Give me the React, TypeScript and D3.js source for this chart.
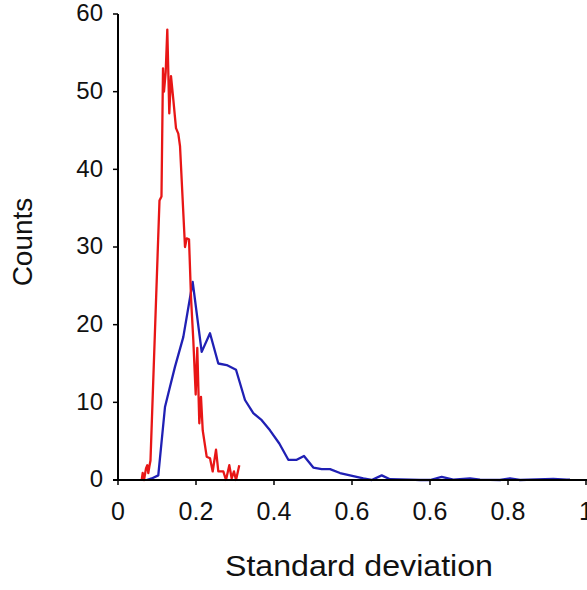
import React from "react";
import * as d3 from "d3";

const redX = [0.0608, 0.0633, 0.0667, 0.0718, 0.0751, 0.0777, 0.0803, 0.0833, 0.1064, 0.1115, 0.1154, 0.1179, 0.1223, 0.1264, 0.1315, 0.1359, 0.1418, 0.1487, 0.1546, 0.159, 0.1718, 0.1762, 0.1821, 0.1872, 0.1931, 0.1992, 0.2033, 0.2085, 0.2128, 0.2172, 0.2274, 0.2359, 0.2428, 0.2513, 0.2572, 0.27, 0.2769, 0.2854, 0.2915, 0.2974, 0.3026, 0.311];
const redY = [0, 0.9, 0, 1.5, 1.9, 0.9, 1.7, 2.5, 36, 36.5, 53, 50, 52.5, 58, 47.2, 52, 49, 45.3, 44.6, 43, 30, 31.1, 31, 23.5, 18, 11, 17, 7.3, 10.7, 6.4, 3, 2.8, 1.1, 3.9, 1.1, 1.1, 0, 1.9, 0.2, 1.1, 0, 1.9];

const blueX = [0.0736, 0.0864, 0.1033, 0.1205, 0.1333, 0.1462, 0.1674, 0.1915, 0.2146, 0.2359, 0.2572, 0.2787, 0.3026, 0.3256, 0.3469, 0.3685, 0.3897, 0.4136, 0.4367, 0.4582, 0.4769, 0.5008, 0.5223, 0.5436, 0.5692, 0.6033, 0.629, 0.6505, 0.6762, 0.6974, 0.7487, 0.7744, 0.8, 0.83, 0.8597, 0.9026, 0.9282, 0.9795, 1.0051, 1.0308, 1.1162, 1.1505, 1.159];
const blueY = [0, 0.2, 0.6, 9.4, 12, 14.6, 18.4, 25.5, 16.5, 18.9, 15, 14.8, 14.2, 10.3, 8.6, 7.7, 6.4, 4.7, 2.6, 2.6, 3.1, 1.6, 1.4, 1.4, 0.9, 0.5, 0.2, 0, 0.6, 0.1, 0.05, 0, 0, 0.4, 0.05, 0.2, 0.05, 0, 0.2, 0, 0.15, 0.05, 0.05];

const xTickValues = [0, 0.2, 0.4, 0.6, 0.8, 1.0, 1.2];
const xTickLabels = ["0", "0.2", "0.4", "0.6", "0.6", "0.8", "1"];
const yTickValues = [0, 10, 20, 30, 40, 50, 60];

export default function App() {
  const x = d3.scaleLinear().domain([0, 1.2]).range([118, 586]);
  const y = d3.scaleLinear().domain([0, 60]).range([480, 14]);
  const line = d3
    .line<[number, number]>()
    .x((d) => x(d[0]))
    .y((d) => y(d[1]));
  const red = redX.map((v, i) => [v, redY[i]] as [number, number]);
  const blue = blueX.map((v, i) => [v, blueY[i]] as [number, number]);
  const font = "'Liberation Sans', Arial, Helvetica, sans-serif";
  return (
    <svg
      width={587}
      height={590}
      style={{ position: "absolute", left: 0, top: 0, background: "#fff" }}
      fontFamily={font}
    >
      <rect width={587} height={590} fill="#fff" />
      <path d={line(blue) || ""} fill="none" stroke="#2020b4" strokeWidth={2.3} strokeLinejoin="round" />
      <path d={line(red) || ""} fill="none" stroke="#e81616" strokeWidth={2.3} strokeLinejoin="round" />
      {/* y axis */}
      <line x1={118} x2={118} y1={y(60)} y2={y(0)} stroke="#000" strokeWidth={2} />
      {yTickValues.map((t) => (
        <g key={t}>
          <line x1={113} x2={118} y1={y(t)} y2={y(t)} stroke="#000" strokeWidth={1.5} />
          <text x={103} y={y(t)} dy="0.3em" textAnchor="end" fontSize={24} fill="#111">
            {t}
          </text>
        </g>
      ))}
      {/* x axis */}
      <line x1={113} x2={587} y1={480} y2={480} stroke="#000" strokeWidth={2} />
      {xTickValues.map((t, i) => (
        <g key={i}>
          <line x1={x(t)} x2={x(t)} y1={480} y2={485} stroke="#000" strokeWidth={1.5} />
          <text x={x(t)} y={520} textAnchor="middle" fontSize={25} fill="#111">
            {xTickLabels[i]}
          </text>
        </g>
      ))}
      <text
        x={359}
        y={576}
        textAnchor="middle"
        fontSize={29}
        fill="#111"
        textLength={268}
        lengthAdjust="spacingAndGlyphs"
      >
        Standard deviation
      </text>
      <text
        transform="translate(32,242) rotate(-90)"
        textAnchor="middle"
        fontSize={28}
        fill="#111"
      >
        Counts
      </text>
    </svg>
  );
}
